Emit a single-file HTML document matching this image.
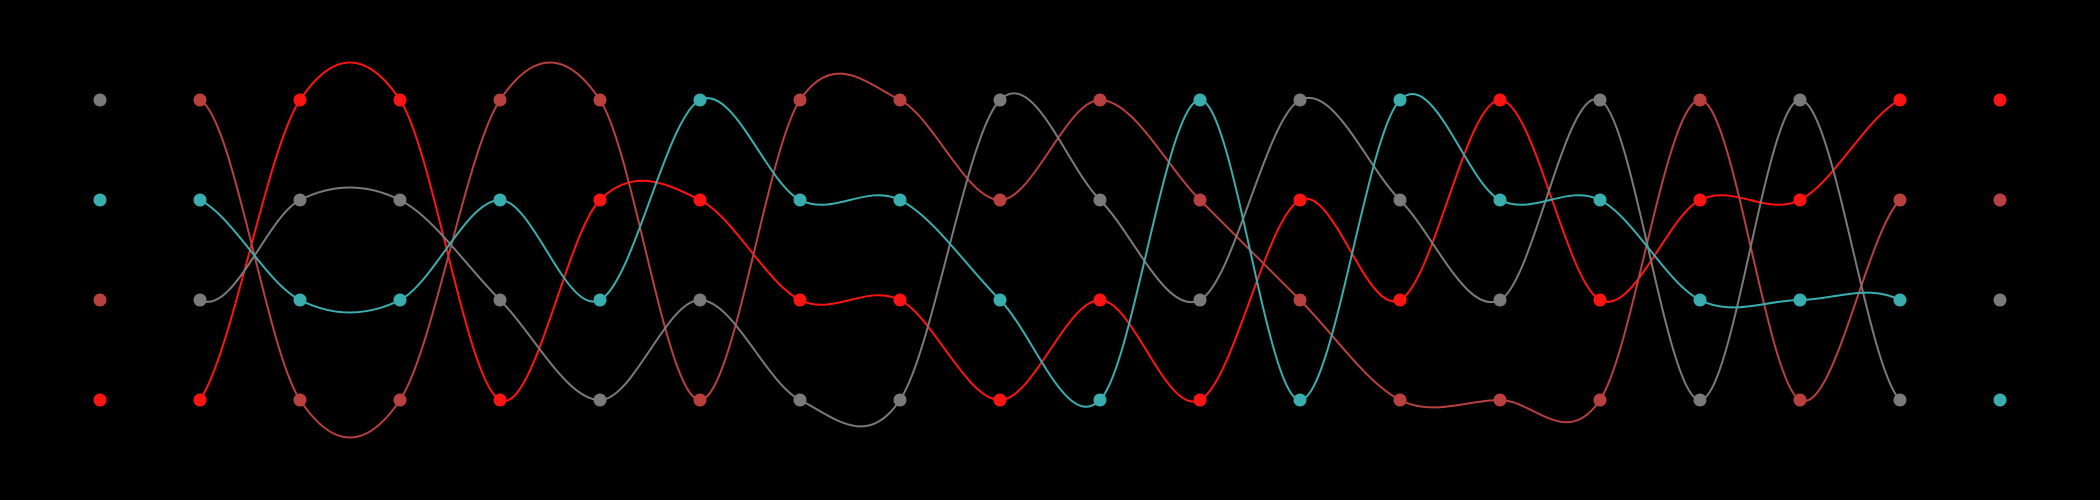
<!DOCTYPE html>
<html><head><meta charset="utf-8"><style>
html,body{margin:0;padding:0;background:#000;}
svg{display:block;}
</style></head><body>
<svg id="chart" width="2100" height="500"></svg>
<script>
const columns = [0,1,2,3,4,5,6,7,8,9,10,11,12,13,14,15,16,17,18,19];
const seriesNames = ["red","darkred","gray","teal"];
const rankRed     = [4,4,1,1,4,2,2,3,3,4,3,4,2,3,1,3,2,2,1,1];
const rankDarkred = [3,1,4,4,1,1,4,1,1,2,1,2,3,4,4,4,1,4,2,2];
const rankGray    = [1,3,2,2,3,4,3,4,4,1,2,3,1,2,3,1,4,1,4,3];
const rankTeal    = [2,2,3,3,2,3,1,2,2,3,4,1,4,1,2,2,3,3,3,4];
const colors = {red:"#ff1414", darkred:"#b8403e", gray:"#7a7a7a", teal:"#3aaeae"};
const ranks = {red:rankRed, darkred:rankDarkred, gray:rankGray, teal:rankTeal};
const xScale = i => 100 + i*100;
const yScale = r => 100 + (r-1)*100;
const svg = document.getElementById('chart');
const NS = "http://www.w3.org/2000/svg";
const lines = document.createElementNS(NS,'g');
const dots = document.createElementNS(NS,'g');
svg.appendChild(lines); svg.appendChild(dots);
seriesNames.forEach(name=>{
  const r = ranks[name];
  const pts = columns.map((c,i)=>[xScale(c), yScale(r[i])]);
  let d = "M"+pts[1][0]+","+pts[1][1];
  for(let i=1;i<pts.length-2;i++){
    const p0 = pts[i-1], p1=pts[i], p2=pts[i+1], p3=pts[i+2];
    const c1x=p1[0]+(p2[0]-p0[0])/6, c1y=p1[1]+(p2[1]-p0[1])/6;
    const c2x=p2[0]-(p3[0]-p1[0])/6, c2y=p2[1]-(p3[1]-p1[1])/6;
    d+=` C${c1x},${c1y} ${c2x},${c2y} ${p2[0]},${p2[1]}`;
  }
  const path=document.createElementNS(NS,'path');
  path.setAttribute('d',d);
  path.setAttribute('fill','none');
  path.setAttribute('stroke',colors[name]);
  path.setAttribute('stroke-width','2');
  
  
  lines.appendChild(path);
  columns.forEach((c,i)=>{
    const dot=document.createElementNS(NS,'circle');
    dot.setAttribute('cx',xScale(c));
    dot.setAttribute('cy',yScale(r[i]));
    dot.setAttribute('r','6.5');
    dot.setAttribute('fill',colors[name]);
    
    
    dots.appendChild(dot);
  });
});
</script>
</body></html>
